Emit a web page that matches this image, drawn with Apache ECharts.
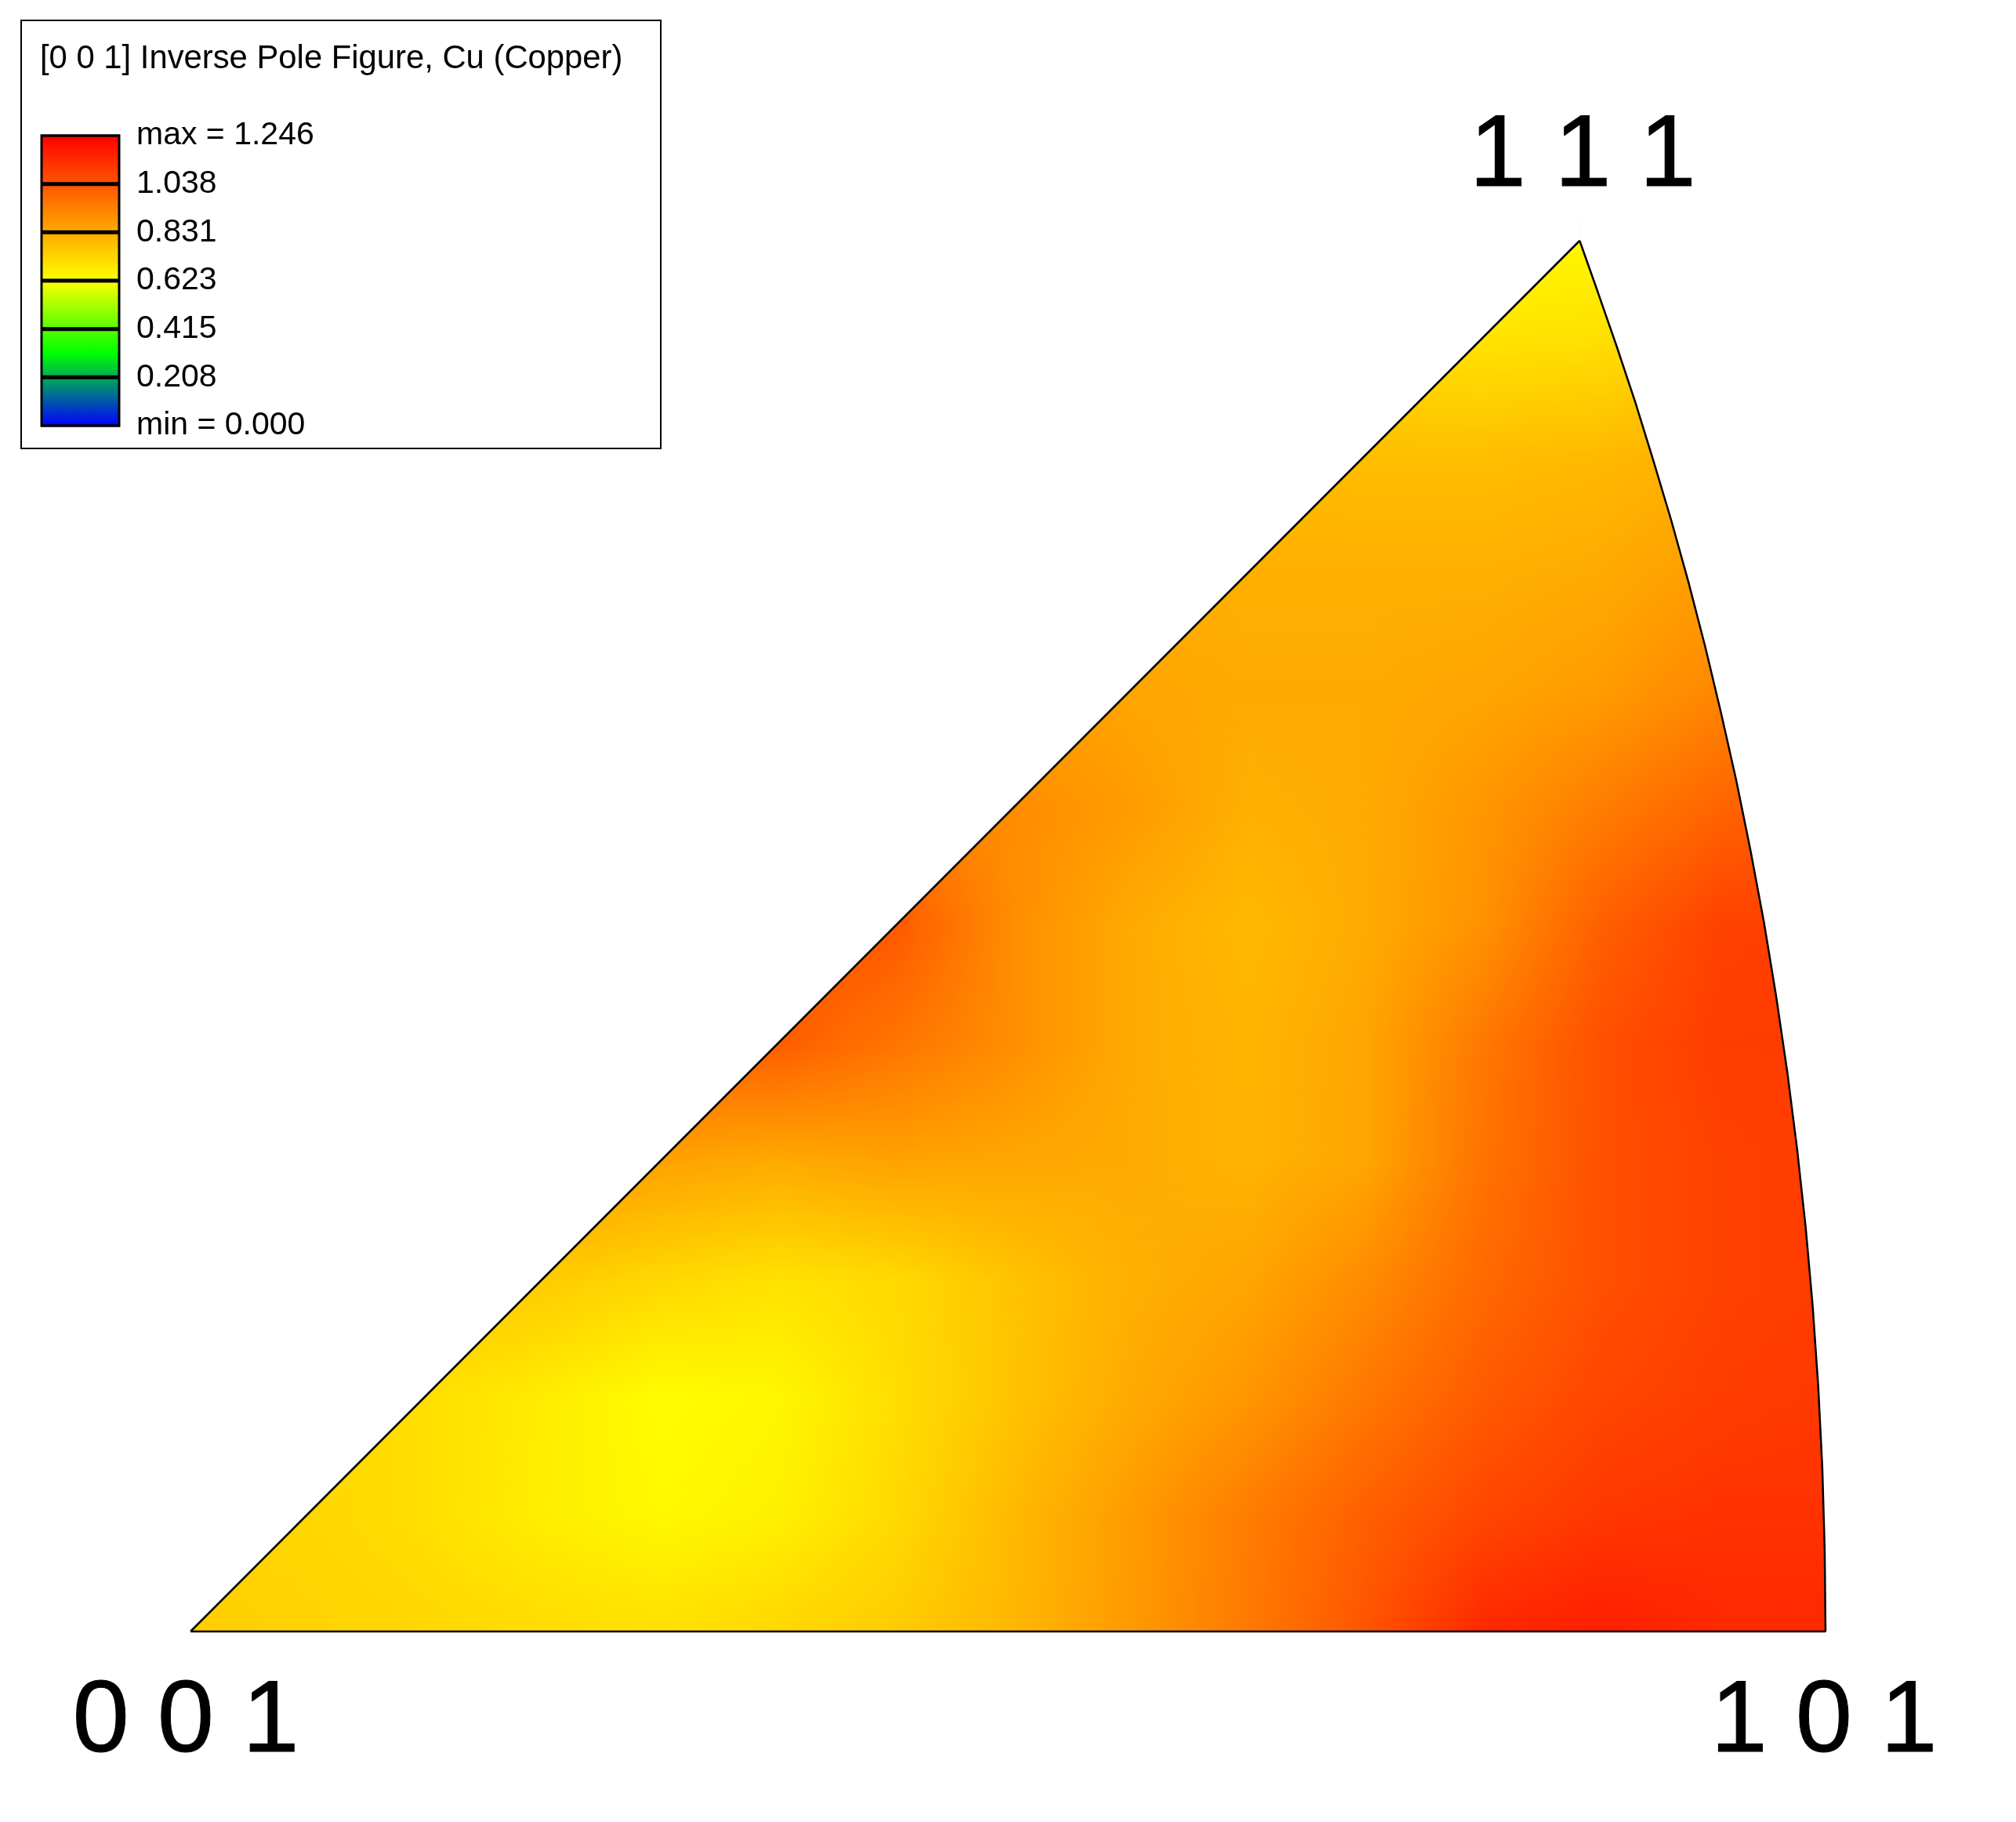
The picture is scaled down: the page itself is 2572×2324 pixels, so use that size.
<!DOCTYPE html>
<html><head><meta charset="utf-8">
<style>html,body{margin:0;padding:0;background:#fff}#c{width:2572px;height:2324px}</style>
<script src="https://cdn.jsdelivr.net/npm/echarts@6/dist/echarts.min.js"></script>
</head><body><div id="c"></div>
<script>
const titleText = '[0 0 1] Inverse Pole Figure, Cu (Copper)';
const legendValues = [0, 0.208, 0.415, 0.623, 0.831, 1.038, 1.246];
const legendLabels = ['min = 0.000', '0.208', '0.415', '0.623', '0.831', '1.038', 'max = 1.246'];
const rampStops = [0, 0.3115, 0.623, 1.246];
const rampColors = [[0,0,255],[0,255,0],[255,255,0],[255,0,0]];
const cornerLabels = ['0 0 1', '1 0 1', '1 1 1'];
const cornerX = [0, 0.7654, 0.6503];
const cornerY = [0, 0, 0.6503];
const arcX = [0.7654,0.7650,0.7639,0.7620,0.7594,0.7561,0.7521,0.7475,0.7423,0.7366,0.7303,0.7236,0.7164,0.7090,0.7012,0.6931,0.6847,0.6763,0.6676,0.6589,0.6503];
const arcY = [0,0.0383,0.0764,0.1143,0.1519,0.1890,0.2256,0.2616,0.2969,0.3315,0.3651,0.3980,0.4299,0.4608,0.4908,0.5198,0.5478,0.5749,0.6010,0.6260,0.6503];
const nodeX = [0,0.055,0.11,0.165,0.22,0.275,0.33,0.385,0.44,0.495,0.55,0.605,0.66,0.715,0.77];
const nodeY = [0,0.055,0.11,0.165,0.22,0.275,0.33,0.385,0.44,0.495,0.55,0.605,0.66];
const _ = null;
const heatRows = [
 [.745,.733,.720,.710,.700,.720,.750,.800,.870,.950,1.040,1.150,1.173,1.148,1.148],
 [.730,.720,.700,.665,.640,.660,.715,.794,.867,.941,1.014,1.075,1.112,1.124,1.124],
 [_,.720,.700,.670,.630,.645,.705,.770,.831,.880,.953,1.026,1.075,1.099,1.112],
 [_,_,.770,.750,.720,.695,.715,.770,.818,.843,.904,.989,1.051,1.087,1.099],
 [_,_,_,.880,.850,.830,.850,.840,.830,.810,.843,.965,1.051,1.087,1.099],
 [_,_,_,_,1.0,1.02,.960,.900,.831,.806,.843,.953,1.051,1.099,1.099],
 [_,_,_,_,_,1.05,1.03,.900,.831,.794,.831,.890,1.014,1.087,1.099],
 [_,_,_,_,_,_,.93,.904,.867,.818,.831,.880,.941,1.002,1.03],
 [_,_,_,_,_,_,_,.86,.843,.831,.831,.843,.867,.916,.95],
 [_,_,_,_,_,_,_,_,.82,.818,.818,.818,.831,.867,_],
 [_,_,_,_,_,_,_,_,_,.79,.782,.782,.794,.818,_],
 [_,_,_,_,_,_,_,_,_,_,.70,.690,.700,.733,_],
 [_,_,_,_,_,_,_,_,_,_,_,.63,.63,.64,_]
];

function colorOf(v){
  let k = 0;
  while (k < rampStops.length - 2 && v > rampStops[k+1]) k++;
  const t = Math.max(0, Math.min(1, (v - rampStops[k]) / (rampStops[k+1] - rampStops[k])));
  const a = rampColors[k], b = rampColors[k+1];
  return 'rgb(' + [0,1,2].map(n => Math.round(a[n] + (b[n]-a[n])*t)).join(',') + ')';
}

const heatData = [];
heatRows.forEach((row,j) => row.forEach((v,i) => { if (v !== null) heatData.push([nodeX[i], nodeY[j], v, i, j]); }));

function renderHeat(params, api){
  const i = api.value(3), j = api.value(4);
  if (j + 1 >= nodeY.length || i + 1 >= nodeX.length) return null;
  const a = heatRows[j][i], b = heatRows[j][i+1], c = heatRows[j+1][i], d = heatRows[j+1][i+1];
  if (a === null || b === null || c === null || d === null) return null;
  const p0 = api.coord([nodeX[i], nodeY[j]]), p1 = api.coord([nodeX[i+1], nodeY[j+1]]);
  const h = p0[1] - p1[1], n = Math.ceil(h / 3), children = [];
  for (let s = 0; s < n; s++){
    const t = (s + .5) / n;
    const y = p0[1] - h * (s + 1) / n;
    children.push({type:'rect', shape:{x:p0[0], y:y, width:p1[0]-p0[0]+1, height:(s === 0 && j === 0) ? h/n : h/n+1},
      style:{fill:{type:'linear',x:0,y:0,x2:1,y2:0,colorStops:[
        {offset:0,color:colorOf(a+(c-a)*t)},{offset:1,color:colorOf(b+(d-b)*t)}]}}});
  }
  return {type:'group', children};
}

function polyRender(points){
  return function(params, api){
    return params.dataIndex === 0 ? {type:'polygon', shape:{points:points.map(p => api.coord(p))}, style:{fill:'#fff'}} : null;
  };
}
const maskTop = nodeY[nodeY.length-1] + 0.01, maskRightEdge = nodeX[nodeX.length-1] + 0.01;
const maskLeft = [[0,0],[cornerX[2],cornerY[2]],[cornerX[2],maskTop],[maskTop-0.07,maskTop],[-0.002,0.068],[-0.002,0]];
const maskRight = arcX.map((x,k) => [x, arcY[k]]).concat([[cornerX[2],maskTop],[maskRightEdge,maskTop],[maskRightEdge,-0.002],[cornerX[1],-0.002]]);
const outline = [[cornerX[0],cornerY[0]]].concat(arcX.map((x,k) => [x, arcY[k]]), [[cornerX[0],cornerY[0]]]);

const legendBands = legendValues.slice(0,-1).map((v,k) => [v, legendValues[k+1]]);

const chart = echarts.init(document.getElementById('c'), null, {renderer:'canvas'});
chart.setOption({
  animation:false,
  backgroundColor:'#fff',
  textStyle:{fontFamily:'Liberation Sans'},
  grid:[
    {left:243, top:307, width:2086, height:1774, show:false},
    {left:53, top:173, width:99, height:370, show:false}
  ],
  xAxis:[
    {type:'value', gridIndex:0, min:0, max:cornerX[1], show:false},
    {type:'value', gridIndex:1, min:0, max:1, show:false}
  ],
  yAxis:[
    {type:'value', gridIndex:0, min:0, max:cornerY[2], show:false},
    {type:'value', gridIndex:1, min:0, max:1.246, position:'right', splitLine:{show:false},
     axisLine:{show:false}, axisTick:{show:false},
     axisLabel:{customValues:legendValues, margin:22, color:'#000', fontSize:41, fontFamily:'Liberation Sans',
       formatter:v => legendLabels[legendValues.indexOf(v)]}}
  ],
  graphic:[
    {type:'rect', shape:{x:27,y:26,width:816,height:546}, style:{fill:'none',stroke:'#000',lineWidth:2}, z:1},
    {type:'text', x:51, y:75, style:{text:titleText, font:'41.8px "Liberation Sans"', fill:'#000', textVerticalAlign:'middle'}, z:10}
  ],
  series:[
    {type:'custom', xAxisIndex:0, yAxisIndex:0, coordinateSystem:'cartesian2d', clip:false, z:1, silent:true,
     renderItem:renderHeat, data:heatData},
    {type:'custom', xAxisIndex:0, yAxisIndex:0, clip:false, z:2, silent:true,
     renderItem:polyRender(maskLeft), data:[maskLeft[0]]},
    {type:'custom', xAxisIndex:0, yAxisIndex:0, clip:false, z:2, silent:true,
     renderItem:polyRender(maskRight), data:[maskRight[0]]},
    {type:'line', xAxisIndex:0, yAxisIndex:0, data:outline, showSymbol:false, clip:false, z:3, silent:true,
     lineStyle:{color:'#000', width:2.5}},
    {type:'scatter', xAxisIndex:0, yAxisIndex:0, clip:false, z:4, silent:true, symbolSize:1, itemStyle:{color:'#fff', opacity:1},
     data:cornerLabels.map((t,k) => ({value:[cornerX[k],cornerY[k]], name:t,
       label:{show:true, position:'inside', formatter:'{b}', fontFamily:'Liberation Sans', fontSize:130, color:'#000', opacity:1,
         textBorderColor:'#000', textBorderWidth:1, align:'center', verticalAlign:'middle',
         offset:[[-6,117],[-2,117],[4,-106]][k]}}))},
    {type:'custom', xAxisIndex:1, yAxisIndex:1, clip:false, z:5, silent:true,
     renderItem(params, api){
       const lo = api.value(0), hi = api.value(1);
       const a = api.coord([0,lo]), b = api.coord([1,hi]);
       const stops = [0, .25, .5, .75, 1].map(f => ({offset:f, color:colorOf(hi + (lo-hi)*f)}));
       return {type:'rect', shape:{x:a[0], y:b[1], width:b[0]-a[0], height:a[1]-b[1]},
         style:{fill:{type:'linear',x:0,y:0,x2:0,y2:1,colorStops:stops}}};
     }, encode:{x:[],y:[0,1]}, data:legendBands},
    {type:'custom', xAxisIndex:1, yAxisIndex:1, clip:false, z:6, silent:true,
     renderItem(params, api){
       const v = api.value(0), a = api.coord([0,v]), b = api.coord([1,v]);
       const end = v === legendValues[0] || v === legendValues[legendValues.length-1];
       return {type:'line', shape:{x1:a[0]-1, y1:a[1], x2:b[0]+1, y2:b[1]}, style:{stroke:'#000', lineWidth:end?3:5}};
     }, encode:{x:[],y:[0]}, data:legendValues.map(v => [v])},
    {type:'custom', xAxisIndex:1, yAxisIndex:1, clip:false, z:6, silent:true,
     renderItem(params, api){
       const a = api.coord([0,api.value(0)]), b = api.coord([1,api.value(1)]);
       return {type:'rect', shape:{x:a[0], y:b[1], width:b[0]-a[0], height:a[1]-b[1]}, style:{fill:'none', stroke:'#000', lineWidth:3}};
     }, encode:{x:[],y:[0,1]}, data:[[legendValues[0], legendValues[legendValues.length-1]]]}
  ]
});
</script></body></html>
